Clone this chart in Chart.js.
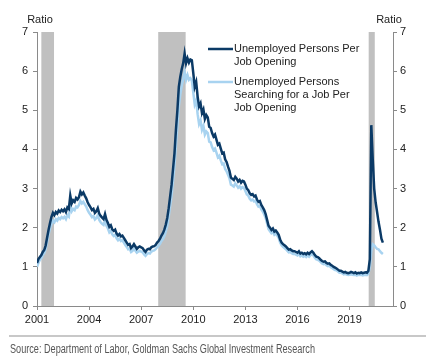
<!DOCTYPE html>
<html>
<head>
<meta charset="utf-8">
<script src="https://cdn.jsdelivr.net/npm/chart.js@4.4.0/dist/chart.umd.min.js"></script>
<style>
  html, body { margin: 0; padding: 0; background: #fff; }
  #wrap { width: 426px; height: 364px; position: relative; }
</style>
</head>
<body>
<div id="wrap"><canvas id="ratioChart" width="426" height="364"></canvas></div>
<script>
// Monthly data, Jan 2001 - Dec 2020 (one row per year)
const startYear = 2001;

// Unemployed persons per job opening
const unemployedPerOpening = [
  1.10, 1.20, 1.25, 1.30, 1.38, 1.43, 1.55, 1.75, 1.95, 2.12, 2.28, 2.38, // 2001
  2.32, 2.40, 2.36, 2.44, 2.40, 2.46, 2.42, 2.47, 2.40, 2.52, 2.48, 2.82, // 2002
  2.62, 2.70, 2.66, 2.76, 2.72, 2.78, 2.92, 2.85, 2.90, 2.82, 2.75, 2.65, // 2003
  2.58, 2.52, 2.45, 2.48, 2.38, 2.42, 2.50, 2.36, 2.30, 2.26, 2.22, 2.35, // 2004
  2.20, 2.12, 2.02, 2.06, 1.96, 1.92, 1.95, 1.85, 1.80, 1.84, 1.78, 1.80, // 2005
  1.74, 1.68, 1.62, 1.56, 1.58, 1.48, 1.52, 1.58, 1.52, 1.46, 1.50, 1.52, // 2006
  1.50, 1.48, 1.42, 1.38, 1.44, 1.46, 1.45, 1.50, 1.52, 1.53, 1.56, 1.62, // 2007
  1.66, 1.72, 1.80, 1.86, 1.95, 2.08, 2.25, 2.50, 2.80, 3.10, 3.50, 3.90, // 2008
  4.50, 5.00, 5.60, 5.85, 6.05, 6.20, 6.45, 6.20, 6.33, 6.22, 6.30, 6.28, // 2009
  5.95, 5.60, 5.72, 5.35, 5.10, 5.18, 4.93, 5.02, 4.78, 4.88, 4.82, 4.58, // 2010
  4.55, 4.42, 4.33, 4.38, 4.25, 4.12, 4.15, 4.02, 3.90, 3.92, 3.75, 3.68, // 2011
  3.56, 3.45, 3.28, 3.25, 3.22, 3.30, 3.25, 3.18, 3.22, 3.15, 3.20, 3.18, // 2012
  3.10, 3.00, 2.96, 2.88, 2.84, 2.86, 2.80, 2.82, 2.72, 2.66, 2.68, 2.58, // 2013
  2.52, 2.45, 2.35, 2.20, 2.05, 2.00, 1.94, 1.98, 1.90, 1.93, 1.88, 1.82, // 2014
  1.70, 1.62, 1.58, 1.55, 1.52, 1.48, 1.44, 1.45, 1.42, 1.40, 1.40, 1.38, // 2015
  1.36, 1.40, 1.34, 1.36, 1.33, 1.35, 1.32, 1.36, 1.33, 1.37, 1.40, 1.36, // 2016
  1.30, 1.26, 1.25, 1.22, 1.18, 1.15, 1.13, 1.14, 1.10, 1.08, 1.09, 1.05, // 2017
  1.03, 1.00, 0.98, 0.96, 0.93, 0.90, 0.90, 0.88, 0.86, 0.87, 0.85, 0.84, // 2018
  0.85, 0.87, 0.86, 0.84, 0.86, 0.83, 0.85, 0.84, 0.86, 0.84, 0.85, 0.86, // 2019
  0.85, 0.90, 1.20, 4.62, 3.75, 3.00, 2.65, 2.40, 2.15, 1.95, 1.72, 1.62  // 2020
];

// Unemployed persons searching for a job per job opening
const searchingPerOpening = [
  1.00, 1.10, 1.18, 1.22, 1.30, 1.35, 1.45, 1.64, 1.82, 1.98, 2.10, 2.18, // 2001
  2.14, 2.22, 2.18, 2.25, 2.22, 2.27, 2.24, 2.28, 2.22, 2.32, 2.28, 2.58, // 2002
  2.42, 2.48, 2.45, 2.54, 2.52, 2.58, 2.68, 2.62, 2.66, 2.60, 2.54, 2.45, // 2003
  2.38, 2.33, 2.27, 2.30, 2.21, 2.25, 2.32, 2.20, 2.14, 2.10, 2.07, 2.18, // 2004
  2.05, 1.98, 1.88, 1.92, 1.83, 1.79, 1.82, 1.73, 1.68, 1.72, 1.66, 1.68, // 2005
  1.62, 1.56, 1.51, 1.45, 1.47, 1.38, 1.41, 1.47, 1.41, 1.36, 1.39, 1.41, // 2006
  1.39, 1.37, 1.32, 1.28, 1.33, 1.35, 1.34, 1.39, 1.41, 1.42, 1.45, 1.50, // 2007
  1.54, 1.59, 1.66, 1.71, 1.79, 1.90, 2.05, 2.28, 2.55, 2.82, 3.20, 3.58, // 2008
  4.10, 4.60, 5.10, 5.40, 5.62, 5.80, 5.98, 5.78, 5.90, 5.78, 5.82, 5.76, // 2009
  5.45, 5.15, 5.25, 4.90, 4.65, 4.74, 4.50, 4.60, 4.38, 4.46, 4.42, 4.20, // 2010
  4.18, 4.06, 3.98, 4.02, 3.92, 3.80, 3.84, 3.72, 3.62, 3.64, 3.50, 3.44, // 2011
  3.35, 3.26, 3.10, 3.08, 3.05, 3.13, 3.08, 3.02, 3.06, 3.00, 3.04, 3.02, // 2012
  2.94, 2.85, 2.82, 2.74, 2.70, 2.72, 2.67, 2.69, 2.60, 2.54, 2.56, 2.47, // 2013
  2.41, 2.34, 2.25, 2.11, 1.96, 1.91, 1.86, 1.89, 1.82, 1.85, 1.80, 1.74, // 2014
  1.62, 1.55, 1.51, 1.48, 1.45, 1.41, 1.37, 1.38, 1.35, 1.33, 1.33, 1.31, // 2015
  1.29, 1.33, 1.27, 1.29, 1.26, 1.28, 1.25, 1.29, 1.26, 1.30, 1.32, 1.29, // 2016
  1.23, 1.19, 1.18, 1.16, 1.12, 1.09, 1.07, 1.08, 1.04, 1.02, 1.03, 0.99, // 2017
  0.97, 0.94, 0.92, 0.91, 0.88, 0.85, 0.85, 0.83, 0.81, 0.82, 0.80, 0.79, // 2018
  0.80, 0.81, 0.80, 0.79, 0.80, 0.78, 0.80, 0.79, 0.80, 0.78, 0.79, 0.80, // 2019
  0.79, 0.82, 1.00, 1.40, 1.58, 1.55, 1.50, 1.46, 1.45, 1.40, 1.36, 1.33  // 2020
];

// Recession periods (decimal years)
const recessions = [
  [2001.25, 2001.98],
  [2007.98, 2009.56],
  [2020.10, 2020.45]
];

const xTickYears = [2001, 2004, 2007, 2010, 2013, 2016, 2019];
const yTickValues = [0, 1, 2, 3, 4, 5, 6, 7];

const seriesLabels = [
  ["Unemployed Persons Per", "Job Opening"],
  ["Unemployed Persons", "Searching for a Job Per", "Job Opening"]
];
const axisTitle = "Ratio";
const sourceNote = "Source: Department of Labor, Goldman Sachs Global Investment Research";

const DARK = "#0b3a66";
const LIGHT = "#a8d3f0";
const FONT = "'Liberation Sans', Arial, sans-serif";

function toPoints(values) {
  return values.map((v, i) => ({ x: startYear + i / 12, y: v }));
}

// Gray bars for recessions
const recessionPlugin = {
  id: "recessions",
  beforeDatasetsDraw(chart) {
    const { ctx, chartArea, scales } = chart;
    ctx.save();
    ctx.fillStyle = "#c0c0c0";
    recessions.forEach(([a, b]) => {
      const x1 = scales.x.getPixelForValue(a);
      const x2 = scales.x.getPixelForValue(b);
      ctx.fillRect(x1, chartArea.top, x2 - x1, chartArea.bottom - chartArea.top);
    });
    ctx.restore();
  }
};

// Legend, axis titles and source line
const decorPlugin = {
  id: "decor",
  afterDraw(chart) {
    const { ctx, chartArea } = chart;
    ctx.save();
    ctx.font = "11px " + FONT;
    ctx.fillStyle = "#222";
    ctx.textBaseline = "middle";
    ctx.textAlign = "center";
    ctx.fillText(axisTitle, chartArea.left + 3, 20);
    ctx.fillText(axisTitle, chartArea.right - 4, 20);

    // legend
    const colors = [DARK, LIGHT];
    const rowY = [49, 82];
    ctx.textAlign = "left";
    seriesLabels.forEach((lines, i) => {
      ctx.strokeStyle = colors[i];
      ctx.lineWidth = 2.5;
      ctx.beginPath();
      ctx.moveTo(208, rowY[i]);
      ctx.lineTo(233, rowY[i]);
      ctx.stroke();
      lines.forEach((t, j) => ctx.fillText(t, 234, rowY[i] + j * 13));
    });

    // source
    ctx.strokeStyle = "#c8c8c8";
    ctx.lineWidth = 2;
    ctx.beginPath();
    ctx.moveTo(9, 336);
    ctx.lineTo(426, 336);
    ctx.stroke();
    ctx.fillStyle = "#555";
    ctx.font = "12px 'Liberation Sans Narrow', " + FONT;
    ctx.fillText(sourceNote, 10, 350, 305);
    ctx.restore();
  }
};

window.onload = () => {
  const ctx = document.getElementById("ratioChart").getContext("2d");
  const axisColor = "#8a8a8a";
  const tickFont = { family: FONT, size: 11 };

  new Chart(ctx, {
    type: "line",
    data: {
      datasets: [
        {
          label: seriesLabels[0].join(" "),
          data: toPoints(unemployedPerOpening),
          borderColor: DARK,
          borderWidth: 2.5,
          pointRadius: 0,
          tension: 0,
          order: 1
        },
        {
          label: seriesLabels[1].join(" "),
          data: toPoints(searchingPerOpening),
          borderColor: LIGHT,
          borderWidth: 2.5,
          pointRadius: 0,
          tension: 0,
          order: 2
        }
      ]
    },
    options: {
      responsive: false,
      animation: false,
      layout: { padding: { left: 0, right: 0, top: 32, bottom: 0 } },
      plugins: {
        legend: { display: false },
        tooltip: { enabled: false }
      },
      scales: {
        x: {
          type: "linear",
          min: 2001,
          max: 2021.5,
          afterBuildTicks: (axis) => { axis.ticks = xTickYears.map((v) => ({ value: v })); },
          afterFit: (axis) => { axis.height = 58; },
          grid: { drawOnChartArea: false, drawTicks: true, tickLength: 4, color: axisColor },
          border: { display: true, color: axisColor, width: 1 },
          ticks: { font: tickFont, color: "#222", padding: 3, maxRotation: 0, autoSkip: false, callback: (v) => String(v) }
        },
        y: {
          position: "left",
          min: 0,
          max: 7,
          afterBuildTicks: (axis) => { axis.ticks = yTickValues.map((v) => ({ value: v })); },
          afterFit: (axis) => { axis.width = 37; },
          grid: { drawOnChartArea: false, drawTicks: true, tickLength: 4, color: axisColor },
          border: { display: true, color: axisColor, width: 1 },
          ticks: { font: tickFont, color: "#222", padding: 5, autoSkip: false }
        },
        y2: {
          position: "right",
          min: 0,
          max: 7,
          afterBuildTicks: (axis) => { axis.ticks = yTickValues.map((v) => ({ value: v })); },
          afterFit: (axis) => { axis.width = 33; },
          grid: { drawOnChartArea: false, drawTicks: true, tickLength: 4, color: axisColor },
          border: { display: true, color: axisColor, width: 1 },
          ticks: { font: tickFont, color: "#222", padding: 3, autoSkip: false }
        }
      }
    },
    plugins: [recessionPlugin, decorPlugin]
  });
};
</script>
</body>
</html>
